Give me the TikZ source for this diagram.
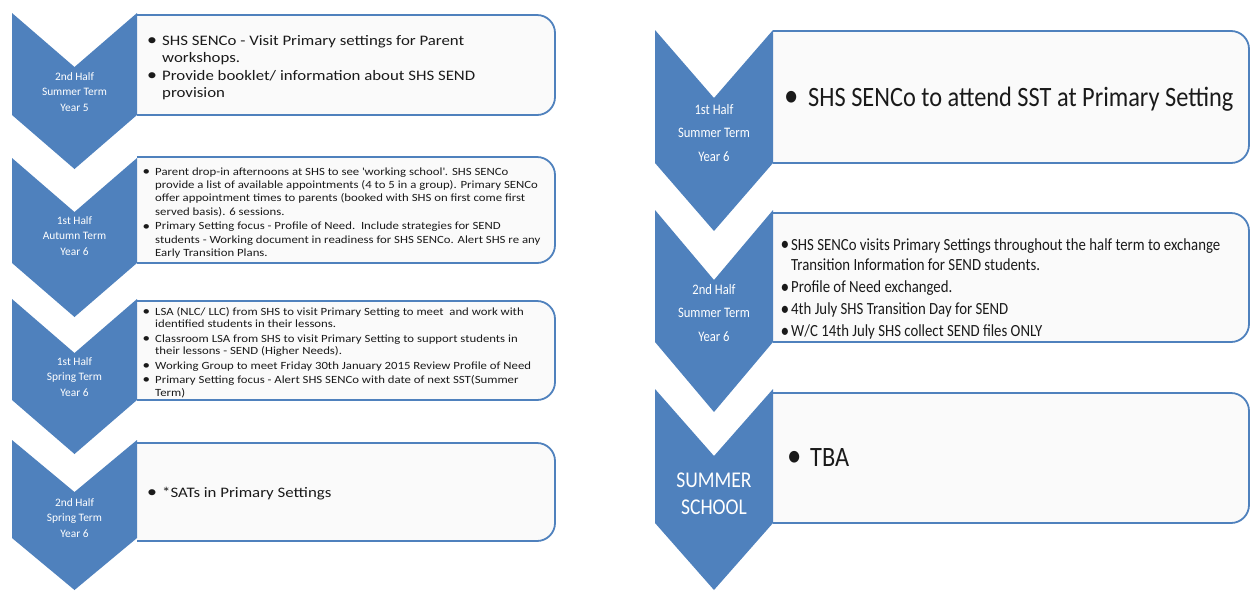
\documentclass[tikz,border=0pt]{standalone}
\usepackage{fontspec}
\setmainfont{Carlito}
\newfontfamily\lfont[FakeStretch=1.16]{Carlito}
\newfontfamily\rfont[FakeStretch=0.87]{Carlito}
\definecolor{chev}{HTML}{4F81BD}
\definecolor{boxfill}{HTML}{FAFAFA}
\definecolor{txt}{HTML}{1A1A1A}
\tikzset{
  chevron/.style={fill=chev, draw=none},
  panel/.style={fill=boxfill, draw=chev, line width=1.8pt, rounded corners=18pt},
  lab/.style={text=white, align=center, inner sep=0pt},
  body/.style={text=txt, anchor=base west, inner sep=0pt},
}
\newcommand\chevpath[5]{%
  \fill[chevron] (#1,#3) -- ({(#1+#2)/2},{#3+#5}) -- (#2,#3) -- (#2,#4) -- ({(#1+#2)/2},{#4+#5}) -- (#1,#4) -- cycle;}
\newcommand\panelpath[4]{%
  \path[panel] (#1,#3) -- (#2,#3) -- (#2,#4) -- (#1,#4);}
\newcommand\bi{\raisebox{-0.03em}{\scalebox{1.18}{\textbullet}}}
\begin{document}
\begin{tikzpicture}[x=1pt,y=-1pt]
\useasboundingbox (0,0) rectangle (1251,590);
% ---------- left column panels ----------
\panelpath{137}{555}{15}{115}
\panelpath{137}{555}{157}{263}
\panelpath{137}{555}{301}{400}
\panelpath{137}{555}{443}{541}
% ---------- left column chevrons ----------
\chevpath{12}{137}{13}{115}{54}
\chevpath{12}{137}{158}{263}{54}
\chevpath{12}{137}{299}{400}{54}
\chevpath{12}{137}{440}{538}{52}
% ---------- right column panels ----------
\panelpath{773}{1249}{31}{163}
\panelpath{773}{1249}{213}{342}
\panelpath{773}{1249}{393}{523}
% ---------- right column chevrons ----------
\chevpath{655}{773}{30}{163}{68}
\chevpath{655}{773}{210}{342}{70}
\chevpath{655}{773}{389}{523}{67}
% ---------- left labels ----------
\node[lab, font=\fontsize{11.4}{15.5}\selectfont] (l1) at (74.5,92) {2nd Half\\Summer Term\\Year 5};
\node[lab, font=\fontsize{11.4}{15.5}\selectfont] (l2) at (74.5,236) {1st Half\\Autumn Term\\Year 6};
\node[lab, font=\fontsize{11.4}{15.5}\selectfont] (l3) at (74.5,377) {1st Half\\Spring Term\\Year 6};
\node[lab, font=\fontsize{11.4}{15.5}\selectfont] (l4) at (74.5,518) {2nd Half\\Spring Term\\Year 6};
% ---------- right labels ----------
\node[lab, font=\rfont\fontsize{14.5}{23.5}\selectfont] (r1) at (714,133) {1st Half\\Summer Term\\Year 6};
\node[lab, font=\rfont\fontsize{14.5}{23.5}\selectfont] (r2) at (714,313) {2nd Half\\Summer Term\\Year 6};
\node[lab, font=\rfont\fontsize{22.5}{27}\selectfont] (r3) at (714,493.5) {SUMMER\\SCHOOL};
% ---------- left texts ----------
\node[body, font=\lfont\fontsize{14.5}{17}\selectfont] (t1) at (147,45) {%
\begin{tabular}[t]{@{}p{15pt}@{}l@{}}
\bi & SHS SENCo - Visit Primary settings for Parent\\
    & workshops.\\[1pt]
\bi & Provide booklet/ information about SHS SEND\\
    & provision
\end{tabular}};
\node[body, font=\lfont\fontsize{11}{13.4}\selectfont] (t2) at (142.5,175) {%
\begin{tabular}[t]{@{}p{12.5pt}@{}l@{}}
\bi & Parent drop-in afternoons at SHS to see \textquotesingle working school\textquotesingle. SHS SENCo\\
    & provide a list of available appointments (4 to 5 in a group). Primary SENCo\\
    & offer appointment times to parents (booked with SHS on first come first\\
    & served basis). 6 sessions.\\[1.2pt]
\bi & Primary Setting focus - Profile of Need.\ \ Include strategies for SEND\\
    & students - Working document in readiness for SHS SENCo. Alert SHS re any\\
    & Early Transition Plans.
\end{tabular}};
\node[body, font=\lfont\fontsize{11}{12.8}\selectfont] (t3) at (142.5,315) {%
\begin{tabular}[t]{@{}p{12.5pt}@{}l@{}}
\bi & LSA (NLC/ LLC) from SHS to visit Primary Setting to meet\ \ and work with\\
    & identified students in their lessons.\\[1.4pt]
\bi & Classroom LSA from SHS to visit Primary Setting to support students in\\
    & their lessons - SEND (Higher Needs).\\[1.4pt]
\bi & Working Group to meet Friday 30th January 2015 Review Profile of Need\\[1.4pt]
\bi & Primary Setting focus - Alert SHS SENCo with date of next SST(Summer\\
    & Term)
\end{tabular}};
\node[body, font=\lfont\fontsize{14.5}{17}\selectfont] (t4) at (147,497) {%
\begin{tabular}[t]{@{}p{15pt}@{}l@{}}
\bi & *SATs in Primary Settings
\end{tabular}};
% ---------- right texts ----------
\node[body, font=\rfont\fontsize{28}{33}\selectfont] (u1) at (784,106) {%
\begin{tabular}[t]{@{}p{24pt}@{}l@{}}
\bi & SHS SENCo to attend SST at Primary Setting
\end{tabular}};
\node[body, font=\rfont\fontsize{17}{20.5}\selectfont] (u2) at (780.5,250) {%
\begin{tabular}[t]{@{}p{10.5pt}@{}l@{}}
\bi & SHS SENCo visits Primary Settings throughout the half term to exchange\\
    & Transition Information for SEND students.\\[1.5pt]
\bi & Profile of Need exchanged.\\[1.5pt]
\bi & 4th July SHS Transition Day for SEND\\[1.5pt]
\bi & W/C 14th July SHS collect SEND files ONLY
\end{tabular}};
\node[body, font=\rfont\fontsize{28}{33}\selectfont] (u3) at (787,466) {%
\begin{tabular}[t]{@{}p{23pt}@{}l@{}}
\bi & TBA
\end{tabular}};
\end{tikzpicture}
\end{document}
